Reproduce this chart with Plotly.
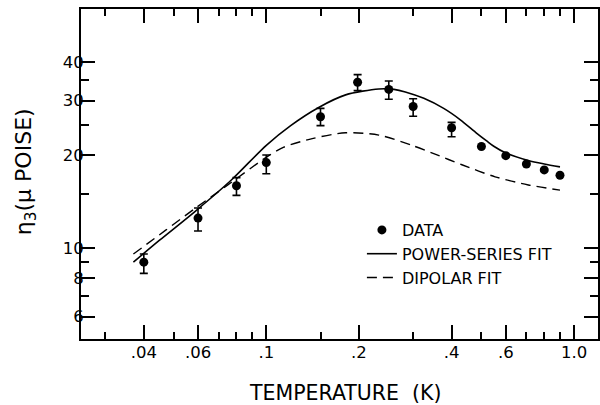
import math
import plotly.graph_objects as go

# ---- data ----
temperature = [0.04, 0.06, 0.08, 0.10, 0.15, 0.198, 0.25, 0.30, 0.40, 0.50, 0.60, 0.70, 0.80, 0.90]
eta3 = [9.0, 12.5, 15.9, 18.9, 26.6, 34.4, 32.6, 28.7, 24.5, 21.3, 19.9, 18.7, 17.9, 17.2]
err_plus = [0.56, 0.97, 1.0, 1.1, 1.7, 2.0, 2.1, 1.7, 1.0]
err_minus = [0.72, 1.15, 1.1, 1.5, 1.7, 2.1, 2.3, 2.0, 1.6]

power_T = [0.037, 0.045, 0.0585, 0.077, 0.10, 0.12, 0.148, 0.181, 0.232, 0.26, 0.283,
           0.325, 0.377, 0.427, 0.483, 0.52, 0.55, 0.60, 0.71, 0.80, 0.90]
power_eta = [9.0, 10.6, 13.1, 16.6, 21.5, 24.9, 28.5, 31.3, 32.7, 32.6, 32.0,
             30.5, 28.3, 26.0, 23.5, 22.2, 21.3, 20.3, 19.2, 18.7, 18.3]

dipolar_T = [0.037, 0.047, 0.0585, 0.075, 0.101, 0.114, 0.141, 0.181, 0.232, 0.297,
             0.35, 0.432, 0.554, 0.71, 0.90]
dipolar_eta = [9.56, 11.4, 13.4, 16.0, 19.8, 21.2, 22.6, 23.6, 23.2, 21.5,
               20.2, 18.6, 17.0, 16.0, 15.4]

x_major = [0.04, 0.06, 0.1, 0.2, 0.4, 0.6, 1.0]
x_major_labels = [".04", ".06", ".1", ".2", ".4", ".6", "1.0"]
x_minor = [0.03, 0.05, 0.07, 0.08, 0.09, 0.15, 0.3, 0.5, 0.7, 0.8, 0.9]
y_major = [6, 8, 10, 20, 30, 40]
y_major_labels = ["6", "8", "10", "20", "30", "40"]
y_minor = [7, 9, 15, 25, 35]

FONT = "DejaVu Sans"

fig = go.Figure()

fig.add_trace(go.Scatter(
    x=temperature, y=eta3, mode="markers", name="DATA", legendrank=1,
    marker=dict(color="black", size=9),
    error_y=dict(type="data", symmetric=False, array=err_plus, arrayminus=err_minus,
                 color="black", thickness=1.6, width=4),
))
fig.add_trace(go.Scatter(
    x=power_T, y=power_eta, mode="lines", name="POWER-SERIES FIT", legendrank=2,
    line=dict(color="black", width=1.6, shape="spline", smoothing=0.8),
))
fig.add_trace(go.Scatter(
    x=dipolar_T, y=dipolar_eta, mode="lines", name="DIPOLAR FIT", legendrank=3,
    line=dict(color="black", width=1.4, dash="10px,6px", shape="spline", smoothing=0.8),
))

axis_common = dict(
    type="log", showline=True, linecolor="black", linewidth=2,
    ticks="inside", tickcolor="black", tickwidth=1.5, ticklen=14,
    mirror="ticks", showgrid=False, zeroline=False,
    tickfont=dict(family=FONT, size=16.5, color="black"),
)

fig.update_xaxes(
    **axis_common,
    range=[math.log10(0.025), math.log10(1.196)],
    tickvals=x_major, ticktext=x_major_labels,
    ticklabelstandoff=-3,
    minor=dict(tickvals=x_minor, ticks="inside", ticklen=7, tickcolor="black", tickwidth=1.5),
)
fig.update_yaxes(
    **axis_common,
    range=[math.log10(5.077), math.log10(59.35)],
    tickvals=y_major, ticktext=y_major_labels,
    ticklabelstandoff=-8,
    minor=dict(tickvals=y_minor, ticks="inside", ticklen=8, tickcolor="black", tickwidth=1.5),
)

fig.update_layout(
    width=600, height=405,
    margin=dict(l=81, r=0, t=9, b=66),
    paper_bgcolor="white", plot_bgcolor="white",
    font=dict(family=FONT, color="black"),
    showlegend=True,
    legend=dict(
        x=(363 - 81) / 519, y=(339 - 213) / 330, xanchor="left", yanchor="top",
        bgcolor="rgba(0,0,0,0)", font=dict(family=FONT, size=16, color="black"),
        traceorder="normal", itemwidth=30,
    ),
    annotations=[
        dict(text="TEMPERATURE  (K)", xref="paper", yref="paper",
             x=(346.7 - 81) / 519, y=-(393 - 339) / 330, xanchor="center", yanchor="middle",
             showarrow=False, font=dict(family=FONT, size=20.5, color="black")),
        dict(text="η<sub>3</sub>(μ POISE)", xref="paper", yref="paper",
             x=(25 - 81) / 519, y=(339 - 172) / 330, xanchor="center", yanchor="middle",
             textangle=-90, showarrow=False, font=dict(family=FONT, size=22, color="black")),
    ],
)

fig.write_html("out.html", config={"displayModeBar": False},
               post_script="document.body.style.margin='0';")
